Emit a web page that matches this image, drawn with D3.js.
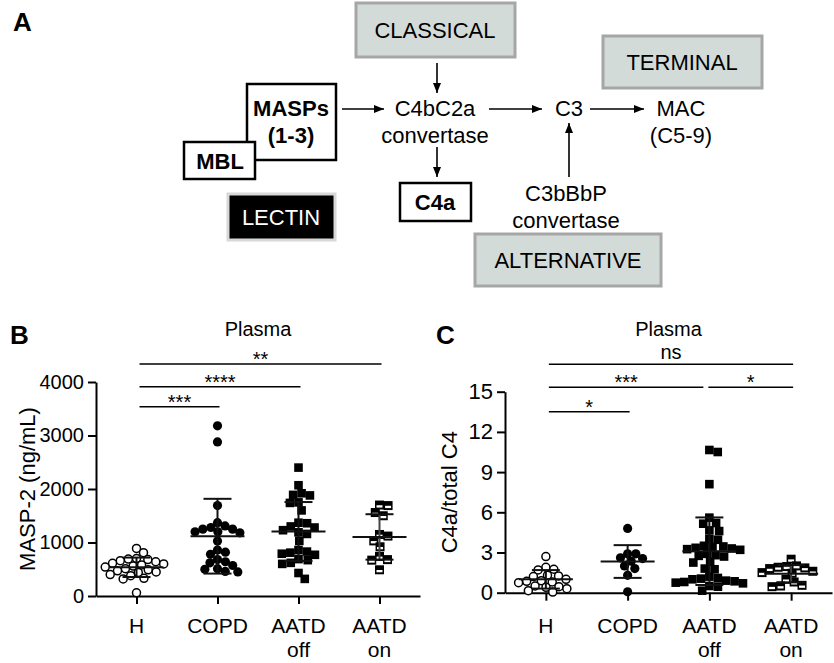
<!DOCTYPE html>
<html><head><meta charset="utf-8">
<script src="https://cdn.jsdelivr.net/npm/d3@7"></script>
<style>
body{margin:0;background:#fff}
svg{display:block}
text{font-family:"Liberation Sans",Arial,Helvetica,sans-serif;fill:#000}
</style>
</head><body>
<svg id="chart" width="834" height="663"></svg>
<script>
// ---------------- DATA ----------------
const categories = ["H", "COPD", "AATD off", "AATD on"];
const categoryLines = [["H"], ["COPD"], ["AATD", "off"], ["AATD", "on"]];
const markerTypes = ["openCircle", "circle", "square", "halfSquare"];

const masp2H = [890, 810, 700, 690, 680, 660, 640, 610, 600, 580, 560, 540, 510, 490, 470, 450, 440, 400, 380, 330, 320, 60];
const masp2COPD = [3180, 2880, 1690, 1370, 1310, 1280, 1250, 1250, 1200, 1200, 1180, 1030, 860, 820, 780, 680, 640, 620, 570, 510, 500, 460, 450];
const masp2AATDoff = [2400, 2070, 1920, 1890, 1880, 1750, 1740, 1600, 1370, 1360, 1300, 1280, 1230, 1190, 1160, 1030, 860, 830, 810, 790, 770, 690, 670, 620, 600, 430, 320];
const masp2AATDon = [1700, 1690, 1560, 1500, 1150, 1120, 1030, 920, 740, 680, 670, 490];

const c4aH = [2.7, 1.9, 1.75, 1.7, 1.3, 1.25, 1.2, 1.0, 0.9, 0.85, 0.8, 0.75, 0.5, 0.45, 0.4, 0.3, 0.15, 0.05];
const c4aCOPD = [4.8, 2.9, 2.9, 2.6, 2.55, 2.35, 2.0, 1.8, 1.3, 0.07];
const c4aAATDoff = [10.65, 10.5, 8.1, 5.6, 5.2, 5.15, 4.65, 4.6, 4.0, 3.95, 3.5, 3.45, 3.4, 3.35, 3.3, 3.25, 3.2, 2.9, 2.8, 2.75, 2.7, 2.3, 2.25, 1.8, 1.75, 1.2, 1.1, 1.05, 1.0, 0.9, 0.85, 0.8, 0.75, 0.7, 0.5, 0.45, 0.15];
const c4aAATDon = [2.5, 2.0, 1.95, 1.9, 1.85, 1.8, 1.6, 1.5, 1.45, 1.0, 0.8, 0.55, 0.5, 0.45];

const maspTicks = [0, 1000, 2000, 3000, 4000];
const c4aTicks = [0, 3, 6, 9, 12, 15];

// [from, to, label, level]
const maspComparisons = [["H", "COPD", "***", 0], ["H", "AATD off", "****", 1], ["H", "AATD on", "**", 2]];
const c4aComparisons = [["H", "COPD", "*", 0], ["H", "AATD off", "***", 1], ["AATD off", "AATD on", "*", 1], ["H", "AATD on", "ns", 2]];

// ---------------- DRAW ----------------
const svg = d3.select("#chart");
const FONT = 22;

// Panel A diagram
const defs = svg.append("defs");
defs.append("marker").attr("id", "arr").attr("viewBox", "0 0 10 8")
  .attr("refX", 10).attr("refY", 4).attr("markerWidth", 10).attr("markerHeight", 8)
  .attr("markerUnits", "userSpaceOnUse").attr("orient", "auto")
  .append("path").attr("d", "M0,0 L10,4 L0,8 Z").attr("fill", "#000");

const A = svg.append("g");
A.append("text").attr("x", 13).attr("y", 31).attr("font-size", 26).attr("font-weight", "bold").text("A");

function box(x, y, w, h, fill, stroke, sw) {
  A.append("rect").attr("x", x).attr("y", y).attr("width", w).attr("height", h)
    .attr("fill", fill).attr("stroke", stroke).attr("stroke-width", sw);
}
function label(x, y, t, bold, color) {
  A.append("text").attr("x", x).attr("y", y).attr("text-anchor", "middle")
    .attr("font-size", FONT).attr("font-weight", bold ? "bold" : "normal")
    .style("fill", color || "#000").text(t);
}
function arrow(x1, y1, x2, y2) {
  A.append("line").attr("x1", x1).attr("y1", y1).attr("x2", x2).attr("y2", y2)
    .attr("stroke", "#000").attr("stroke-width", 1.6).attr("marker-end", "url(#arr)");
}
const grey = "#d3dbd9", greyStroke = "#a6a6a6";
box(356, 3, 159, 54, grey, greyStroke, 3); label(435, 38, "CLASSICAL");
box(603, 36, 159, 52, grey, greyStroke, 3); label(682, 70, "TERMINAL");
box(247, 84, 89, 76, "#fff", "#000", 2.5); label(291, 116, "MASPs", true); label(291, 143, "(1-3)", true);
box(184, 142, 71, 37, "#fff", "#000", 2.5); label(220, 169, "MBL", true);
box(228, 194, 107, 46, "#000", "#d8d8d8", 3); label(281, 225, "LECTIN", false, "#fff");
label(435, 116, "C4bC2a"); label(435, 143, "convertase");
arrow(342, 109, 384, 109);
arrow(437, 63, 437, 93);
arrow(437, 147, 437, 177);
box(400, 183, 71, 38, "#fff", "#000", 2.5); label(435, 210, "C4a", true);
arrow(489, 109, 542, 109);
label(569, 116, "C3");
arrow(590, 109, 644, 109);
label(681, 116, "MAC"); label(681, 143, "(C5-9)");
arrow(569, 177, 569, 123);
label(566, 201, "C3bBbP"); label(566, 228, "convertase");
box(475, 234, 186, 52, grey, greyStroke, 3); label(568, 268, "ALTERNATIVE");

// beeswarm layout from values
function swarm(values, y, cx, d) {
  const pts = values.map(v => ({ v, y: y(v) })).sort((a, b) => d3.descending(a.v, b.v));
  const placed = [];
  for (const p of pts) {
    const cands = [0];
    for (const q of placed) {
      const dy = Math.abs(q.y - p.y);
      if (dy < d) { const dx = Math.sqrt(d * d - dy * dy); cands.push(q.dx + dx, q.dx - dx); }
    }
    cands.sort((a, b) => Math.abs(a) - Math.abs(b) || b - a);
    for (const c of cands) {
      if (placed.every(q => (q.dx - c) ** 2 + (q.y - p.y) ** 2 >= d * d - 0.01)) { p.dx = c; break; }
    }
    placed.push(p);
  }
  return placed.map(p => ({ v: p.v, x: cx + p.dx, y: p.y }));
}

function drawPanel(cfg) {
  const g = svg.append("g");
  const x = d3.scalePoint().domain(categories).range([cfg.x0, cfg.x1]).padding(0.5);
  const y = d3.scaleLinear().domain([0, cfg.ymax]).range([cfg.y0, cfg.yTop]);

  g.append("text").attr("x", cfg.letterX).attr("y", 344).attr("font-size", 26).attr("font-weight", "bold").text(cfg.letter);
  g.append("text").attr("x", (x("H") + x("AATD on")) / 2).attr("y", 336).attr("text-anchor", "middle")
    .attr("font-size", 20).text("Plasma");

  // axes
  const yAxis = d3.axisLeft(y).tickValues(cfg.ticks).tickFormat(d3.format("d"))
    .tickSize(8).tickSizeOuter(0).tickPadding(4);
  const ya = g.append("g").attr("transform", `translate(${cfg.x0},0)`).call(yAxis);
  ya.selectAll("text").attr("font-size", cfg.tickFont).attr("font-family", null).style("fill", "#000");
  ya.selectAll("line,path").attr("stroke", "#000").attr("stroke-width", 2);

  const xAxis = d3.axisBottom(x).tickSize(8).tickSizeOuter(0).tickFormat("");
  const xa = g.append("g").attr("transform", `translate(0,${cfg.y0})`).call(xAxis);
  xa.selectAll("line,path").attr("stroke", "#000").attr("stroke-width", 2);

  categories.forEach((c, i) => {
    categoryLines[i].forEach((t, j) => {
      g.append("text").attr("x", x(c)).attr("y", 633 + j * 24).attr("text-anchor", "middle")
        .attr("font-size", 21).text(t);
    });
  });

  g.append("text").attr("transform", `translate(${cfg.ylabX},${(cfg.y0 + cfg.yTop) / 2}) rotate(-90)`)
    .attr("text-anchor", "middle").attr("font-size", FONT).text(cfg.ylabel);

  // points
  cfg.series.forEach((vals, i) => {
    const c = categories[i];
    const type = markerTypes[i];
    const pts = swarm(vals, y, x(c), type.includes("ircle") ? 8.2 : 8.6);
    pts.forEach(p => {
      if (type === "openCircle") {
        g.append("circle").attr("cx", p.x).attr("cy", p.y).attr("r", 4).attr("fill", "#fff").attr("stroke", "#000").attr("stroke-width", 1.5);
      } else if (type === "circle") {
        g.append("circle").attr("cx", p.x).attr("cy", p.y).attr("r", 4.6).attr("fill", "#000");
      } else if (type === "square") {
        g.append("rect").attr("x", p.x - 4.3).attr("y", p.y - 4.3).attr("width", 8.6).attr("height", 8.6).attr("fill", "#000");
      } else {
        g.append("rect").attr("x", p.x - 4.5).attr("y", p.y - 4.5).attr("width", 9).attr("height", 9).attr("fill", "#000");
        g.append("rect").attr("x", p.x - 3).attr("y", p.y + 0.2).attr("width", 6).attr("height", 2.3).attr("fill", "#fff");
      }
    });
    // mean ± SD
    const m = d3.mean(vals), sd = d3.deviation(vals);
    const cx = x(c);
    const lo = Math.max(0, m - sd), hi = m + sd;
    const col = i === 3 ? "#444" : "#111";
    g.append("line").attr("x1", cx).attr("x2", cx).attr("y1", y(lo)).attr("y2", y(hi)).attr("stroke", col).attr("stroke-width", 2);
    g.append("line").attr("x1", cx - 14).attr("x2", cx + 14).attr("y1", y(hi)).attr("y2", y(hi)).attr("stroke", "#111").attr("stroke-width", 2);
    g.append("line").attr("x1", cx - 14).attr("x2", cx + 14).attr("y1", y(lo)).attr("y2", y(lo)).attr("stroke", "#111").attr("stroke-width", 2);
    g.append("line").attr("x1", cx - 27).attr("x2", cx + 27).attr("y1", y(m)).attr("y2", y(m)).attr("stroke", "#111").attr("stroke-width", 2);
  });

  // significance brackets
  cfg.comparisons.forEach(([a, b, lab, lev]) => {
    const ly = cfg.levels[lev];
    const shared = cfg.comparisons.filter(o => o[3] === lev);
    let x1 = x(a) + 3, x2 = x(b) + 2;
    if (shared.some(o => o[0] === b)) x2 = x(b) - 6;
    if (shared.some(o => o[1] === a)) x1 = x(a) - 1;
    g.append("line").attr("x1", x1).attr("x2", x2).attr("y1", ly).attr("y2", ly).attr("stroke", "#000").attr("stroke-width", 1.6);
    g.append("text").attr("x", (x1 + x2) / 2).attr("y", lab === "ns" ? ly - 5 : ly + 2)
      .attr("text-anchor", "middle").attr("font-size", 20).text(lab);
  });
}

drawPanel({
  letter: "B", letterX: 10, x0: 96, x1: 420, y0: 596, yTop: 382, ymax: 4000,
  ticks: maspTicks, tickFont: 20, ylabel: "MASP-2 (ng/mL)", ylabX: 35,
  series: [masp2H, masp2COPD, masp2AATDoff, masp2AATDon],
  comparisons: maspComparisons, levels: [406.7, 386.7, 364]
});
drawPanel({
  letter: "C", letterX: 436, x0: 505, x1: 832, y0: 592.7, yTop: 391.7, ymax: 15,
  ticks: c4aTicks, tickFont: 22, ylabel: "C4a/total C4", ylabX: 457,
  series: [c4aH, c4aCOPD, c4aAATDoff, c4aAATDon],
  comparisons: c4aComparisons, levels: [411.7, 387.3, 364.3]
});
</script>
</body></html>
